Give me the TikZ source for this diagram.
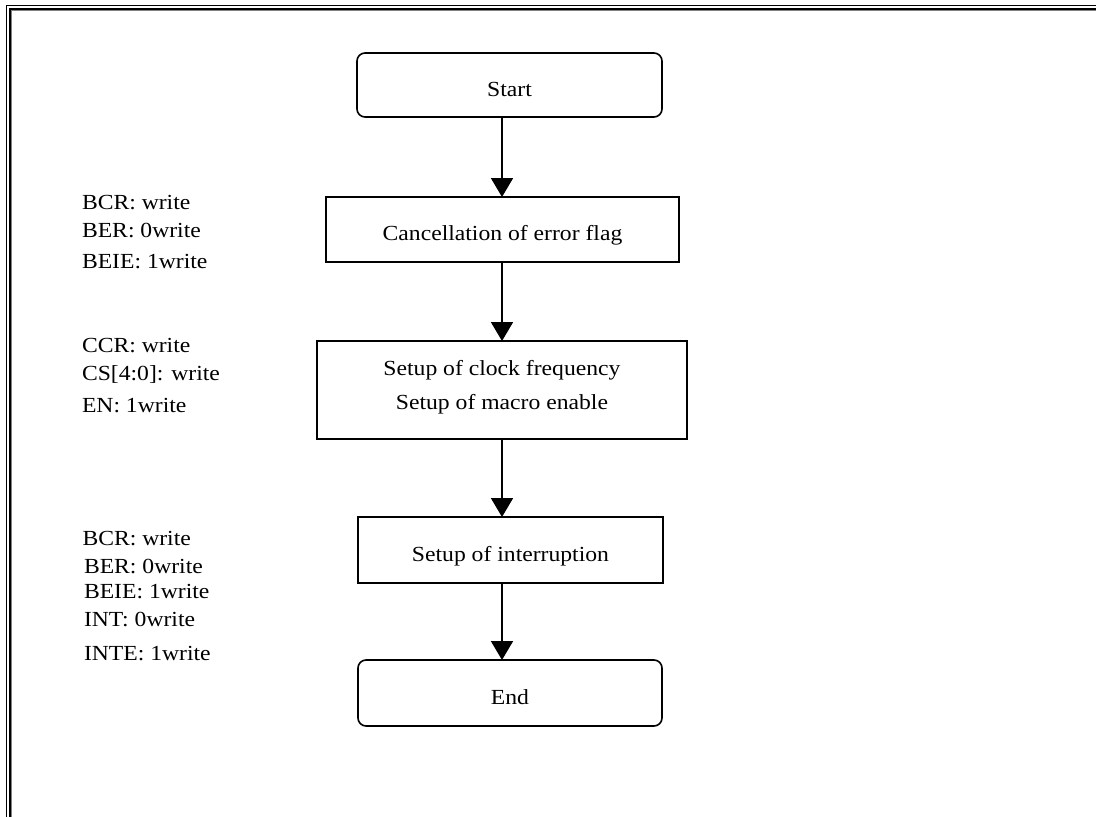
\documentclass[tikz,border=0pt]{standalone}
\usepackage{fontspec}
\setmainfont{Liberation Serif}[FakeStretch=1.1]
\usetikzlibrary{arrows.meta}
\begin{document}
\begin{tikzpicture}[x=1pt,y=-1pt,
  every node/.style={font=\fontsize{21.5}{34.5}\selectfont, inner sep=0pt, outer sep=0pt},
  procbox/.style={draw, line width=1.6pt, text height=22pt, text depth=0pt},
  termbox/.style={procbox, rounded corners=8pt},
  lbl/.style={anchor=base west},
  flow/.style={line width=1.9pt, -{Triangle[width=22pt,length=19pt]}}]
\useasboundingbox (0,0) rectangle (1096,817);
% frame
\draw[line width=1.4pt] (6.5,817) -- (6.5,5.5) -- (1096,5.5);
\draw[line width=1.6pt, gray] (11.6,817) -- (11.6,10.6) -- (1096,10.6);
\draw[line width=1.8pt] (10.2,817) -- (10.2,9.2) -- (1096,9.2);
% boxes
\node[termbox, minimum width=305pt, minimum height=64pt] (start) at (509.5,85) {Start};
\node[procbox, minimum width=353pt, minimum height=65pt] (cancel) at (502.5,229.5) {Cancellation of error flag};
\node[draw, line width=1.6pt, minimum width=370pt, minimum height=98pt, text height=15pt, text depth=44.5pt] (clock) at (502,390)
  {\vtop{\halign{\hfil#\hfil\cr Setup of clock frequency\cr Setup of macro enable\cr}}};
\node[procbox, minimum width=305pt, minimum height=66pt] (intr) at (510.5,550) {Setup of interruption};
\node[termbox, minimum width=304pt, minimum height=66pt] (end) at (510,693) {End};
% arrows
\coordinate (ax) at (502,0);
\draw[flow] (start.south -| ax) -- (cancel.north -| ax);
\draw[flow] (cancel.south -| ax) -- (clock.north -| ax);
\draw[flow] (clock.south -| ax) -- (intr.north -| ax);
\draw[flow] (intr.south -| ax) -- (end.north -| ax);
% labels
\node[lbl] (a1) at (82,209) {BCR: write};
\node[lbl] (a2) at (82,237) {BER: 0write};
\node[lbl] (a3) at (82,268) {BEIE: 1write};
\node[lbl] (b1) at (82,352.5) {CCR: write};
\node[lbl] (b2) at (82,380.5) {CS[4:0]: write};
\node[lbl] (b3) at (82,412.5) {EN: 1write};
\node[lbl] (c1) at (82.5,545) {BCR: write};
\node[lbl] (c2) at (84,573) {BER: 0write};
\node[lbl] (c3) at (84,598.5) {BEIE: 1write};
\node[lbl] (c4) at (84,626.5) {INT: 0write};
\node[lbl] (c5) at (84,660) {INTE: 1write};
\end{tikzpicture}
\end{document}
